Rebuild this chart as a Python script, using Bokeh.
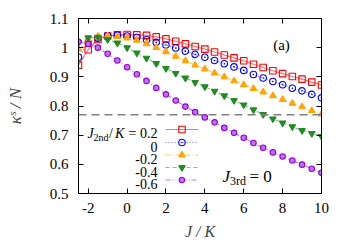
from bokeh.plotting import figure
from bokeh.models import Range1d, LinearAxis, FixedTicker, Label, Span, CustomJSTickFormatter
from bokeh.embed import file_html
from bokeh.resources import INLINE

# ---------------- data ----------------
J_over_K = [-2.5, -2.0, -1.5, -1.0, -0.5, 0.0, 0.5, 1.0, 1.5, 2.0, 2.5, 3.0, 3.5,
            4.0, 4.5, 5.0, 5.5, 6.0, 6.5, 7.0, 7.5, 8.0, 8.5, 9.0, 9.5, 10.0]
kappa_j2_p02 = [0.940, 0.993, 1.028, 1.040, 1.044, 1.045, 1.044, 1.042, 1.037, 1.030, 1.022, 1.013, 1.004,
                0.995, 0.985, 0.975, 0.965, 0.955, 0.943, 0.932, 0.921, 0.911, 0.901, 0.892, 0.882, 0.872]
kappa_j2_000 = [0.967, 1.017, 1.032, 1.041, 1.043, 1.040, 1.035, 1.027, 1.018, 1.009, 0.999, 0.988, 0.977,
                0.967, 0.956, 0.945, 0.934, 0.922, 0.908, 0.896, 0.884, 0.873, 0.861, 0.852, 0.840, 0.828]
kappa_j2_m02 = [0.995, 1.023, 1.039, 1.041, 1.038, 1.033, 1.025, 1.013, 1.000, 0.986, 0.970, 0.955, 0.940,
                0.927, 0.913, 0.900, 0.886, 0.873, 0.860, 0.848, 0.835, 0.822, 0.809, 0.797, 0.784, 0.772]
kappa_j2_m04 = [1.018, 1.034, 1.036, 1.028, 1.016, 1.000, 0.982, 0.964, 0.946, 0.929, 0.912, 0.896, 0.881,
                0.866, 0.851, 0.835, 0.819, 0.804, 0.787, 0.771, 0.756, 0.742, 0.729, 0.716, 0.706, 0.696]
kappa_j2_m06 = [1.020, 1.013, 1.000, 0.979, 0.956, 0.933, 0.909, 0.886, 0.862, 0.840, 0.819, 0.798, 0.779,
                0.761, 0.744, 0.725, 0.708, 0.691, 0.673, 0.657, 0.641, 0.627, 0.613, 0.599, 0.585, 0.571]
series_labels = ["0.2", "0", "-0.2", "-0.4", "-0.6"]
reference_level = 0.77
x_ticks = [-2, 0, 2, 4, 6, 8, 10]
x_tick_labels = ["-2", "0", "2", "4", "6", "8", "10"]
y_ticks = [0.5, 0.6, 0.7, 0.8, 0.9, 1.0, 1.1]
y_tick_labels = ["0.5", "0.6", "0.7", "0.8", "0.9", "1", "1.1"]

# ---------------- styles ----------------
FONT = "Liberation Serif"
series = [kappa_j2_p02, kappa_j2_000, kappa_j2_m02, kappa_j2_m04, kappa_j2_m06]
styles = [
    dict(color="#ff0000", dash="solid", marker="square", fill=None, size=6.5),
    dict(color="#0000ff", dash="1 2", marker="circle_dot", fill=None, size=6.5),
    dict(color="#ffa500", dash="5 2 1 2", marker="triangle", fill="#ffa500", size=6.5),
    dict(color="#228b22", dash="4 3", marker="inverted_triangle", fill="#228b22", size=6.5),
    dict(color="#9400d3", dash="5 2 1 2 1 2", marker="circle", fill="#c070f0", size=5.5),
]

W, H = 350, 245
FL, FR, FT, FB = 78, 29, 18, 52     # frame borders (canvas px)
X0, X1, Y0, Y1 = -2.5, 10.0, 0.5, 1.1

p = figure(width=W, height=H, x_range=Range1d(X0, X1), y_range=Range1d(Y0, Y1),
           output_backend="svg", toolbar_location=None,
           min_border_left=FL, min_border_right=FR, min_border_top=FT, min_border_bottom=FB)
p.xgrid.visible = False
p.ygrid.visible = False
p.background_fill_color = "white"
p.border_fill_color = "white"
p.outline_line_color = "black"
p.outline_line_width = 1

fw = W - FL - FR
fh = H - FT - FB


def dx(px):  # page px -> data x
    return X0 + (px - FL) * (X1 - X0) / fw


def dy(py):  # page px -> data y
    return Y1 - (py - FT) * (Y1 - Y0) / fh


def style_axis(ax, ticks, labels, show):
    ax.ticker = FixedTicker(ticks=ticks)
    ax.major_tick_in = 5
    ax.major_tick_out = 0
    ax.minor_tick_in = 0
    ax.minor_tick_out = 0
    ax.axis_line_color = "black"
    ax.major_tick_line_color = "black"
    if show:
        ax.major_label_overrides = {t: l for t, l in zip(ticks, labels)}
        ax.major_label_text_font = FONT
        ax.major_label_text_font_size = "15px"
        ax.major_label_text_color = "black"
    else:
        ax.formatter = CustomJSTickFormatter(code="return ''")
        ax.major_label_standoff = 0


style_axis(p.xaxis[0], x_ticks, x_tick_labels, True)
style_axis(p.yaxis[0], y_ticks, y_tick_labels, True)
p.xaxis.major_label_standoff = 9
p.yaxis.major_label_standoff = 10
p.xaxis.axis_label = "J / K"
p.xaxis.axis_label_text_font = FONT
p.xaxis.axis_label_text_font_size = "16px"
p.xaxis.axis_label_text_font_style = "italic"
p.xaxis.axis_label_standoff = 7
p.yaxis.axis_label = "\u03ba\u02e2 / N"
p.yaxis.axis_label_text_font = FONT
p.yaxis.axis_label_text_font_size = "17px"
p.yaxis.axis_label_text_font_style = "italic"
p.yaxis.axis_label_standoff = 22

top = LinearAxis()
style_axis(top, x_ticks, x_tick_labels, False)
p.add_layout(top, "above")
right = LinearAxis()
style_axis(right, y_ticks, y_tick_labels, False)
p.add_layout(right, "right")

# horizontal reference line
p.add_layout(Span(location=reference_level, dimension="width", line_color="#808080",
                  line_width=1.3, line_dash="8 5"))

# series
for ys, st in zip(series, styles):
    p.line(J_over_K, ys, line_color=st["color"], line_dash=st["dash"], line_width=1.2, line_alpha=0.55)
    p.scatter(J_over_K, ys, marker=st["marker"], size=st["size"], line_color=st["color"],
              fill_color=st["fill"], line_width=1.1)

# legend (manual, text left of sample)
row_base = [133, 146, 158.5, 171, 183.5]
for i, (lab_txt, st) in enumerate(zip(series_labels, styles)):
    b = row_base[i]
    cy = dy(b - 4)
    p.line([dx(165), dx(198)], [cy, cy], line_color=st["color"], line_dash=st["dash"],
           line_width=1.2, line_alpha=0.55)
    p.scatter([dx(181.5)], [cy], marker=st["marker"], size=st["size"], line_color=st["color"],
              fill_color=st["fill"], line_width=1.1)
    txt = ("= " + lab_txt) if i == 0 else lab_txt
    p.add_layout(Label(x=dx(157), y=dy(b), text=txt, text_align="right", text_baseline="alphabetic",
                       text_font=FONT, text_font_size="14px", text_color="black"))


def lab(px, py, text, size, italic=False, align="left", baseline="alphabetic"):
    p.add_layout(Label(x=dx(px), y=dy(py), text=text, text_align=align, text_baseline=baseline,
                       text_font=FONT, text_font_size=size,
                       text_font_style="italic" if italic else "normal", text_color="black"))


# legend title pieces: J_2nd / K
lab(87, 133, "J", "14px", italic=True)
lab(93, 136.5, "2nd", "10px")
lab(108.5, 133, "/", "14px")
lab(114.5, 133, "K", "14px", italic=True)

# J_3rd = 0
lab(222, 176, "J", "17px", italic=True)
lab(229.5, 180, "3rd", "12px")
lab(249, 176, "= 0", "17px")

# (a)
lab(281, 44, "(a)", "15px", align="center", baseline="middle")

open("out.html", "w").write(file_html(p, INLINE))
